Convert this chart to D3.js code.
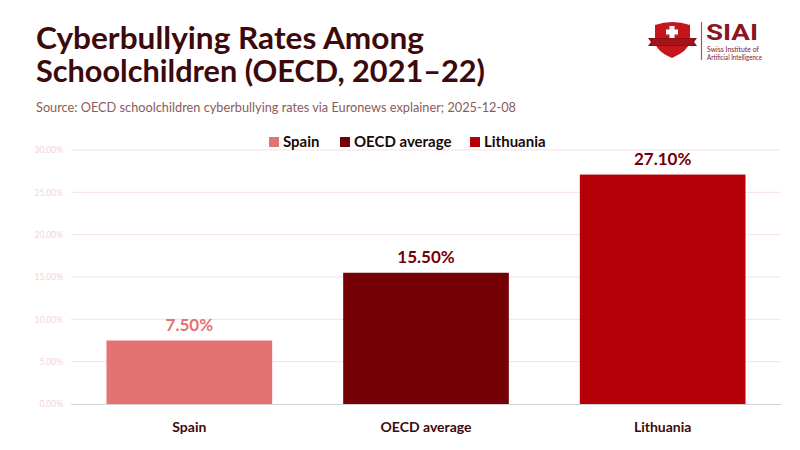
<!DOCTYPE html>
<html><head><meta charset="utf-8">
<script src="https://cdn.jsdelivr.net/npm/d3@7"></script>
<style>
body{margin:0;background:#fff;}
svg{display:block;font-family:"Source Sans Pro","Lato","Noto Sans",sans-serif;}
</style></head>
<body><svg id="c" width="800" height="450"></svg>
<script>
const categories = ["Spain", "OECD average", "Lithuania"];
const values = [7.5, 15.5, 27.1];
const colors = ["#e47272", "#750006", "#b40006"];
const labelColors = ["#e47272", "#750006", "#750006"];
const yTicks = [0, 5, 10, 15, 20, 25, 30];

const svg = d3.select("#c");
const W = 800, H = 450;
svg.append("rect").attr("width", W).attr("height", H).attr("fill", "#fff");

const title = svg.append("text").attr("fill", "#3d0a0c")
  .attr("font-weight", 700).attr("font-size", 29.5);
title.append("tspan").attr("x", 36).attr("y", 49)
  .attr("textLength", 388).attr("lengthAdjust", "spacingAndGlyphs").text("Cyberbullying Rates Among");
title.append("tspan").attr("x", 36).attr("y", 81.5)
  .attr("textLength", 449).attr("lengthAdjust", "spacingAndGlyphs").text("Schoolchildren (OECD, 2021–22)");
svg.append("text").attr("x", 36).attr("y", 111.5).attr("font-size", 12.5)
  .attr("fill", "#8a5c5c").attr("textLength", 480).attr("lengthAdjust", "spacingAndGlyphs")
  .text("Source: OECD schoolchildren cyberbullying rates via Euronews explainer; 2025-12-08");

// logo
const logo = svg.append("g");
logo.append("path").attr("d", "M655,25 Q672,19 690,25 L690,42 Q688,51 672,58 Q656,51 655,42 Z").attr("fill", "#c4161c");
logo.append("path").attr("d", "M648,38 L697,38 L694,42 L697,46 L648,46 L651,42 Z").attr("fill", "#8a0f14");
logo.append("rect").attr("x", 652).attr("y", 39).attr("width", 41).attr("height", 6).attr("fill", "#a5131a");
logo.append("rect").attr("x", 669.5).attr("y", 26).attr("width", 5).attr("height", 12).attr("fill", "#fff");
logo.append("rect").attr("x", 666).attr("y", 29.5).attr("width", 12).attr("height", 5).attr("fill", "#fff");
logo.append("line").attr("x1", 701.5).attr("x2", 701.5).attr("y1", 22).attr("y2", 60).attr("stroke", "#b0525a").attr("stroke-width", 1.2);
logo.append("text").attr("x", 706).attr("y", 40).attr("font-size", 22.5).attr("font-weight", 700)
  .attr("fill", "#8b1520").attr("font-family", "Roboto, sans-serif")
  .attr("textLength", 52).attr("lengthAdjust", "spacingAndGlyphs").text("SIAI");
logo.append("text").attr("x", 707).attr("y", 52).attr("font-size", 6.8).attr("fill", "#8b1520")
  .attr("textLength", 52).attr("lengthAdjust", "spacingAndGlyphs").text("Swiss Institute of");
logo.append("text").attr("x", 707).attr("y", 59.5).attr("font-size", 6.8).attr("fill", "#8b1520")
  .attr("textLength", 55).attr("lengthAdjust", "spacingAndGlyphs").text("Artificial Intelligence");

// plot
const x = d3.scaleBand().domain(categories).range([71, 781]).paddingInner(0.3).paddingOuter(0.15);
const y = d3.scaleLinear().domain([0, 30]).range([404, 150]);

const grid = svg.append("g");
grid.selectAll("line").data(yTicks.filter(d => d > 0)).join("line")
  .attr("x1", 71).attr("x2", 781).attr("y1", d => y(d)).attr("y2", d => y(d))
  .attr("stroke", "#f7e1e3").attr("stroke-width", 1);

const yAxis = svg.append("g").attr("transform", "translate(71,0)")
  .call(d3.axisLeft(y).tickValues(yTicks).tickFormat(d => d3.format(".2f")(d) + "%").tickSize(0).tickPadding(8));
yAxis.select(".domain").remove();
yAxis.selectAll("text").attr("font-size", 8.5).attr("fill", "#f3d3d6").attr("font-family", "Lato, sans-serif");

svg.append("g").selectAll("rect").data(values).join("rect")
  .attr("x", (d, i) => x(categories[i])).attr("width", x.bandwidth())
  .attr("y", d => y(d)).attr("height", d => y(0) - y(d))
  .attr("fill", (d, i) => colors[i]);

svg.append("line").attr("x1", 71).attr("x2", 781).attr("y1", y(0) + 0.5).attr("y2", y(0) + 0.5)
  .attr("stroke", "#d4d4d4").attr("stroke-width", 1.2);

svg.append("g").selectAll("text").data(values).join("text")
  .attr("x", (d, i) => x(categories[i]) + x.bandwidth() / 2)
  .attr("y", d => y(d) - 10).attr("text-anchor", "middle")
  .attr("font-size", 17).attr("font-weight", 700)
  .attr("fill", (d, i) => labelColors[i])
  .text(d => d3.format(".2f")(d) + "%");

const xAxis = svg.append("g").attr("transform", "translate(0,404)")
  .call(d3.axisBottom(x).tickSize(0).tickPadding(18));
xAxis.select(".domain").remove();
xAxis.selectAll("text").attr("font-size", 14).attr("font-weight", 700).attr("fill", "#3d0a0c")
  .attr("font-family", "\"Source Sans Pro\",Lato,sans-serif");

// legend
const legendX = [269, 340, 470];
const lg = svg.append("g").selectAll("g").data(categories).join("g")
  .attr("transform", (d, i) => `translate(${legendX[i]},137)`);
lg.append("rect").attr("width", 10).attr("height", 10).attr("fill", (d, i) => colors[i]);
lg.append("text").attr("x", 14).attr("y", 10).attr("font-size", 15).attr("font-weight", 700)
  .attr("fill", "#1a0a0a").text(d => d);
</script></body></html>
